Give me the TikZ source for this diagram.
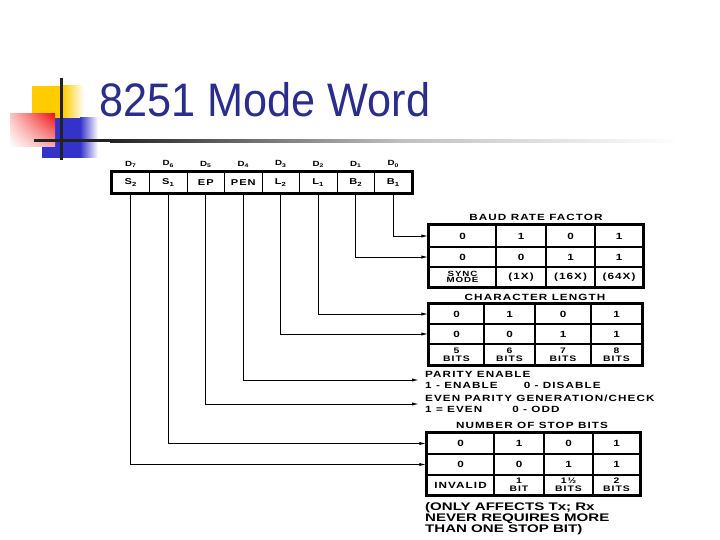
\documentclass[tikz,border=0pt]{standalone}
\usepackage{fontspec}
\setmainfont{Liberation Sans}
\newfontfamily\titlefont[FakeStretch=0.92]{Liberation Sans}
\newfontfamily\scanfont[FakeStretch=1.3,LetterSpace=12]{Liberation Sans}
\newfontfamily\notefont[FakeStretch=1.37]{Liberation Sans}
\usetikzlibrary{arrows.meta, positioning, shadings}
\definecolor{titleblue}{RGB}{43,45,140}
\definecolor{logoyellow}{RGB}{255,204,0}
\definecolor{logoblue}{RGB}{51,51,204}
\definecolor{logored}{RGB}{240,20,20}
\definecolor{barblack}{RGB}{34,34,34}

\begin{document}
\begin{tikzpicture}[x=1pt, y=-1pt, >={Latex[length=7pt,width=3.2pt]},
  reg/.style={draw, line width=1pt, minimum width=37.5pt, minimum height=21pt, inner sep=0pt,
    font=\scanfont\bfseries\fontsize{8.5}{8.5}\selectfont},
  dlab/.style={inner sep=0pt, font=\scanfont\bfseries\fontsize{7.5}{7.5}\selectfont},
  tcell/.style={draw, line width=1.2pt, inner sep=0pt, align=center,
    font=\scanfont\bfseries\fontsize{9}{9}\selectfont},
  twoline/.style={tcell, font=\scanfont\bfseries\fontsize{8}{8.2}\selectfont},
  ttl/.style={inner sep=0pt, font=\scanfont\bfseries\fontsize{9}{9}\selectfont},
  side/.style={anchor=west, align=left, inner xsep=6pt, inner ysep=0pt,
    font=\scanfont\bfseries\fontsize{9}{11}\selectfont},
  conn/.style={->, line width=1pt},
  outer/.style={line width=2.2pt}]
\useasboundingbox (0,0) rectangle (720,540);

% logo
\fill[logoyellow] (32,86) rectangle (63,118);
\shade[left color=logoyellow, right color=white] (63,86) rectangle (84,118);
\fill[logoblue] (42,118) rectangle (80,158);
\shade[left color=logoblue, right color=white] (80,118) rectangle (98,158);
\shade[upper left=logored!25, upper right=logored, lower left=white, lower right=logored!35]
  (10,114) rectangle (55,147);
\draw[barblack, line width=3pt] (61,78) -- (61,160);
\fill[barblack] (34,139.5) rectangle (110,142.5);
\shade[left color=barblack, right color=black!25] (110,139.5) rectangle (400,142.5);
\shade[left color=black!25, right color=white] (400,139.5) rectangle (680,142.5);

\node (title) [anchor=base west, inner sep=0pt, text=titleblue,
  font=\titlefont\fontsize{47}{47}\selectfont] at (99,117) {8251 Mode Word};

% mode register
\node (r7) [reg] at (130.75,182.5) {S\textsubscript{2}};
\node (r6) [reg] at (168.25,182.5) {S\textsubscript{1}};
\node (r5) [reg] at (205.75,182.5) {EP};
\node (r4) [reg] at (243.25,182.5) {PEN};
\node (r3) [reg] at (280.75,182.5) {L\textsubscript{2}};
\node (r2) [reg] at (318.25,182.5) {L\textsubscript{1}};
\node (r1) [reg] at (355.75,182.5) {B\textsubscript{2}};
\node (r0) [reg] at (393.25,182.5) {B\textsubscript{1}};
\draw[outer] (r7.north west) rectangle (r0.south east);

\node (d7) [dlab, above=4pt of r7] {D\textsubscript{7}};
\node (d6) [dlab, above=4pt of r6] {D\textsubscript{6}};
\node (d5) [dlab, above=4pt of r5] {D\textsubscript{5}};
\node (d4) [dlab, above=4pt of r4] {D\textsubscript{4}};
\node (d3) [dlab, above=4pt of r3] {D\textsubscript{3}};
\node (d2) [dlab, above=4pt of r2] {D\textsubscript{2}};
\node (d1) [dlab, above=4pt of r1] {D\textsubscript{1}};
\node (d0) [dlab, above=4pt of r0] {D\textsubscript{0}};

% baud rate factor
\node (ba11) [tcell, minimum width=67pt, minimum height=22pt] at (462.5,236) {0};
\node (ba12) [tcell, minimum width=50pt, minimum height=22pt] at (521,236) {1};
\node (ba13) [tcell, minimum width=49pt, minimum height=22pt] at (570.5,236) {0};
\node (ba14) [tcell, minimum width=48pt, minimum height=22pt] at (619,236) {1};
\node (ba21) [tcell, minimum width=67pt, minimum height=20pt] at (462.5,257) {0};
\node (ba22) [tcell, minimum width=50pt, minimum height=20pt] at (521,257) {0};
\node (ba23) [tcell, minimum width=49pt, minimum height=20pt] at (570.5,257) {1};
\node (ba24) [tcell, minimum width=48pt, minimum height=20pt] at (619,257) {1};
\node (ba31) [tcell, minimum width=67pt, minimum height=20pt,
  font=\scanfont\bfseries\fontsize{7.5}{6.8}\selectfont] at (462.5,277) {SYNC\\MODE};
\node (ba32) [tcell, minimum width=50pt, minimum height=20pt] at (521,277) {(1X)};
\node (ba33) [tcell, minimum width=49pt, minimum height=20pt] at (570.5,277) {(16X)};
\node (ba34) [tcell, minimum width=48pt, minimum height=20pt] at (619,277) {(64X)};
\draw[outer] (ba11.north west) rectangle (ba34.south east);
\node (baud) [ttl] at (536,217) {BAUD RATE FACTOR};

% character length
\node (cl11) [tcell, minimum width=55pt, minimum height=20pt] at (456.5,314) {0};
\node (cl12) [tcell, minimum width=51pt, minimum height=20pt] at (509.5,314) {1};
\node (cl13) [tcell, minimum width=56pt, minimum height=20pt] at (563,314) {0};
\node (cl14) [tcell, minimum width=51pt, minimum height=20pt] at (616.5,314) {1};
\node (cl21) [tcell, minimum width=55pt, minimum height=20pt] at (456.5,334) {0};
\node (cl22) [tcell, minimum width=51pt, minimum height=20pt] at (509.5,334) {0};
\node (cl23) [tcell, minimum width=56pt, minimum height=20pt] at (563,334) {1};
\node (cl24) [tcell, minimum width=51pt, minimum height=20pt] at (616.5,334) {1};
\node (cl31) [twoline, minimum width=55pt, minimum height=21pt] at (456.5,354.5) {5\\BITS};
\node (cl32) [twoline, minimum width=51pt, minimum height=21pt] at (509.5,354.5) {6\\BITS};
\node (cl33) [twoline, minimum width=56pt, minimum height=21pt] at (563,354.5) {7\\BITS};
\node (cl34) [twoline, minimum width=51pt, minimum height=21pt] at (616.5,354.5) {8\\BITS};
\draw[outer] (cl11.north west) rectangle (cl34.south east);
\node (charlen) [ttl] at (535,297) {CHARACTER LENGTH};

% parity
\node (pen) [side] at (419,380) {PARITY ENABLE\\1 - ENABLE\hspace{26pt}0 - DISABLE};
\node (ep) [side] at (419,404) {EVEN PARITY GENERATION/CHECK\\1 = EVEN\hspace{30pt}0 - ODD};

% stop bits
\node (sb11) [tcell, minimum width=67pt, minimum height=21pt] at (460.5,443.5) {0};
\node (sb12) [tcell, minimum width=50pt, minimum height=21pt] at (519,443.5) {1};
\node (sb13) [tcell, minimum width=49pt, minimum height=21pt] at (568.5,443.5) {0};
\node (sb14) [tcell, minimum width=47pt, minimum height=21pt] at (616.5,443.5) {1};
\node (sb21) [tcell, minimum width=67pt, minimum height=21pt] at (460.5,464.5) {0};
\node (sb22) [tcell, minimum width=50pt, minimum height=21pt] at (519,464.5) {0};
\node (sb23) [tcell, minimum width=49pt, minimum height=21pt] at (568.5,464.5) {1};
\node (sb24) [tcell, minimum width=47pt, minimum height=21pt] at (616.5,464.5) {1};
\node (sb31) [tcell, minimum width=67pt, minimum height=20pt] at (460.5,485) {INVALID};
\node (sb32) [twoline, minimum width=50pt, minimum height=20pt] at (519,485) {1\\BIT};
\node (sb33) [twoline, minimum width=49pt, minimum height=20pt] at (568.5,485) {1½\\BITS};
\node (sb34) [twoline, minimum width=47pt, minimum height=20pt] at (616.5,485) {2\\BITS};
\draw[outer] (sb11.north west) rectangle (sb34.south east);
\node (stop) [ttl] at (532,425) {NUMBER OF STOP BITS};
\node (note) [anchor=north west, inner sep=0pt, align=left,
  font=\notefont\bfseries\fontsize{11}{11}\selectfont] at (425,502)
  {(ONLY AFFECTS Tx; Rx\\NEVER REQUIRES MORE\\THAN ONE STOP BIT)};

% connectors
\draw[conn] (r0.south) |- (ba11.west);
\draw[conn] (r1.south) |- (ba21.west);
\draw[conn] (r2.south) |- (cl11.west);
\draw[conn] (r3.south) |- (cl21.west);
\draw[conn] (r4.south) |- (pen.west);
\draw[conn] (r5.south) |- (ep.west);
\draw[conn] (r6.south) |- (sb11.west);
\draw[conn] (r7.south) |- (sb21.west);
\end{tikzpicture}
\end{document}
